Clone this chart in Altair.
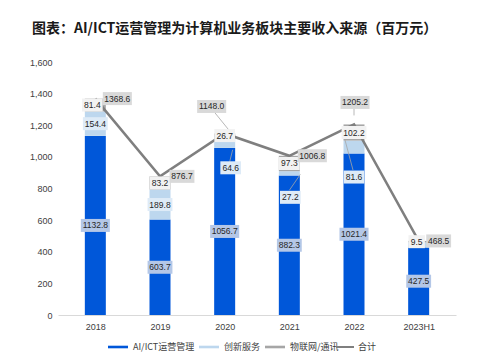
import json
import altair as alt
import pandas as pd

# ---------------- data ----------------
years = ["2018", "2019", "2020", "2021", "2022", "2023H1"]
ai_ict = [1132.8, 603.7, 1056.7, 882.3, 1021.4, 427.5]
innovation = [154.4, 189.8, 64.6, 27.2, 81.6, 31.5]
iot = [81.4, 83.2, 26.7, 97.3, 102.2, 9.5]
total = [1368.6, 876.7, 1148.0, 1006.8, 1205.2, 468.5]
series_names = ["AI/ICT运营管理", "创新服务", "物联网/通讯", "合计"]
y_ticks = [0, 200, 400, 600, 800, 1000, 1200, 1400, 1600]
TITLE = "图表：AI/ICT运营管理为计算机业务板块主要收入来源（百万元）"

# ---------------- style ----------------
W, H = 398, 253
PXU = W / len(years)
CJK = "Noto Sans CJK SC"
NUM = "Liberation Sans"
bar_colors = ["#0057d9", "#bdd7ee", "#a6a6a6"]
line_color = "#7f7f7f"
label_bg = ["#b4c7e7", "#deebf7", "#f2f2f2"]
total_bg = "#d9d9d9"

seg_values = [ai_ict, innovation, iot]
rows = []
for i, y in enumerate(years):
    for k, vals in enumerate(seg_values):
        rows.append({"year": y, "idx": i, "series": series_names[k], "k": k,
                     "value": vals[i]})
seg_df = pd.DataFrame(rows)
tot_df = pd.DataFrame({"year": years, "idx": list(range(len(years))), "total": total,
                       "name": series_names[3]})

color_scale = alt.Scale(domain=series_names[:3], range=bar_colors)
x_scale = alt.Scale(domain=[-0.5, len(years) - 0.5], nice=False, zero=False)
y_scale = alt.Scale(domain=[0, 1600], nice=False)

label_expr = json.dumps(years) + "[datum.value]"
x_axis = alt.Axis(values=list(range(len(years))), labelExpr=label_expr,
                  grid=False, ticks=False, domain=True, domainColor="#d9d9d9",
                  domainWidth=1.2, labelFont=NUM, labelFontSize=9,
                  labelColor="#404040", labelPadding=7, title=None)
y_axis = alt.Axis(values=y_ticks, format=",.0f", grid=False, ticks=False, domain=False,
                  labelFont=NUM, labelFontSize=9, labelColor="#404040", labelPadding=6,
                  title=None)


def X(field):
    return alt.X(field, scale=x_scale, axis=x_axis, title=None)


def Y(field):
    return alt.Y(field, scale=y_scale, axis=y_axis, title=None)


bar_legend = alt.Legend(
    orient="none", legendX=50, legendY=275, direction="horizontal", title=None,
    labelFont=CJK, labelFontSize=9, labelColor="#404040", labelOffset=5,
    columnPadding=4, symbolSize=400, symbolStrokeWidth=0,
    symbolType="M-1,-0.13H1V0.13H-1Z",
)
line_legend = alt.Legend(
    orient="none", legendX=277, legendY=275, direction="horizontal", title=None,
    labelFont=CJK, labelFontSize=9, labelColor="#404040", labelOffset=3,
    symbolSize=324, symbolType="stroke", symbolStrokeWidth=2,
)

bars = alt.Chart(seg_df).mark_bar(size=21).encode(
    x=X("idx:Q"),
    y=alt.Y("value:Q", scale=y_scale, axis=y_axis, title=None, stack="zero"),
    color=alt.Color("series:N", scale=color_scale, legend=bar_legend),
    order=alt.Order("k:Q", sort="ascending"),
)

line = alt.Chart(tot_df).mark_line(strokeWidth=2.5).encode(
    x=X("idx:Q"),
    y=Y("total:Q"),
    stroke=alt.Stroke("name:N", scale=alt.Scale(domain=[series_names[3]], range=[line_color]),
                      legend=line_legend),
)

# labels base (stacked midpoints computed by Vega-Lite)
seg_base = alt.Chart(seg_df).transform_stack(
    stack="value", groupby=["year"], as_=["y0", "y1"],
    sort=[alt.SortField("k", order="ascending")],
).transform_calculate(
    mid="(datum.y0 + datum.y1) / 2",
    label="format(datum.value, '.1f')",
    hw="(length(format(datum.value, '.1f')) * 4.3 + 4) / 2 / " + str(PXU),
).transform_calculate(
    xl="datum.idx - datum.hw", xr="datum.idx + datum.hw",
)
tot_base = alt.Chart(tot_df).transform_calculate(
    label="format(datum.total, '.1f')",
    mid="datum.total",
    hw="(length(format(datum.total, '.1f')) * 4.3 + 4) / 2 / " + str(PXU),
).transform_calculate(
    xl="datum.idx - datum.hw", xr="datum.idx + datum.hw",
)

# label placement tweaks (pixels): key -> (dx, dy)
moved = {
    ("创新服务", "2020"): (6, 25),
    ("创新服务", "2021"): (1, 24),
    ("创新服务", "2022"): (0, 30),
    ("物联网/通讯", "2018"): (-3, 0),
    ("物联网/通讯", "2023H1"): (-2, 0),
    ("合计", "2018"): (22, 0),
    ("合计", "2019"): (22, 0),
    ("合计", "2020"): (-13, -27),
    ("合计", "2021"): (23, 0),
    ("合计", "2022"): (1, -22),
    ("合计", "2023H1"): (20, 0),
}
hidden = {("创新服务", "2023H1")}
# leader lines (pixel offsets from point): key -> (x1, y1, x2, y2)
leaders = {
    ("创新服务", "2020"): (5, 19, 8, 7),
    ("创新服务", "2021"): (0, 17, 11, 1),
    ("创新服务", "2022"): (-1, 23, -9, -7),
    ("合计", "2020"): (-10, -21, 7, 0),
    ("合计", "2022"): (0, -16, 0, -9),
}


def label_layers(base, bg, dx, dy):
    rect = base.mark_rect(fill=bg, xOffset=dx, x2Offset=dx, yOffset=dy - 6.5,
                          y2Offset=dy + 6.5).encode(
        x=X("xl:Q"), x2="xr:Q", y=Y("mid:Q"), y2="mid:Q")
    txt = base.mark_text(font=NUM, fontSize=8.5, color="#262626", dx=dx, dy=dy,
                         baseline="middle", align="center").encode(
        x=X("idx:Q"), y=Y("mid:Q"), text="label:N")
    return [rect, txt]


def leader_layer(base, off):
    x1, y1, x2, y2 = off
    return base.mark_rule(color="#a6a6a6", strokeWidth=0.8, xOffset=x1, yOffset=y1,
                          x2Offset=x2, y2Offset=y2).encode(
        x=X("idx:Q"), x2="idx:Q", y=Y("mid:Q"), y2="mid:Q")


label_list = []
leader_list = []
for k in range(3):
    s = series_names[k]
    for yr in years:
        key = (s, yr)
        if key in hidden:
            continue
        dx, dy = moved.get(key, (0, 0))
        b = seg_base.transform_filter(
            f"datum.series === '{s}' && datum.year === '{yr}'")
        label_list += label_layers(b, label_bg[k], dx, dy)
        if key in leaders:
            leader_list.append(leader_layer(b, leaders[key]))
for yr in years:
    key = (series_names[3], yr)
    dx, dy = moved.get(key, (0, 0))
    b = tot_base.transform_filter(f"datum.year === '{yr}'")
    label_list += label_layers(b, total_bg, dx, dy)
    if key in leaders:
        leader_list.append(leader_layer(b, leaders[key]))

chart = alt.layer(bars, line, *leader_list, *label_list).properties(
    width=W, height=H, background="white",
    title=alt.TitleParams(TITLE, anchor="start", frame="group", dx=-26, offset=22, font=CJK,
                          fontSize=14, fontWeight="bold", color="#1a1a1a"),
    autosize=alt.AutoSizeParams(type="none"),
    padding={"left": 58, "top": 62, "right": 34, "bottom": 38},
).configure_view(stroke=None)

chart.save("out.html", embed_options={"renderer": "svg", "actions": False})
